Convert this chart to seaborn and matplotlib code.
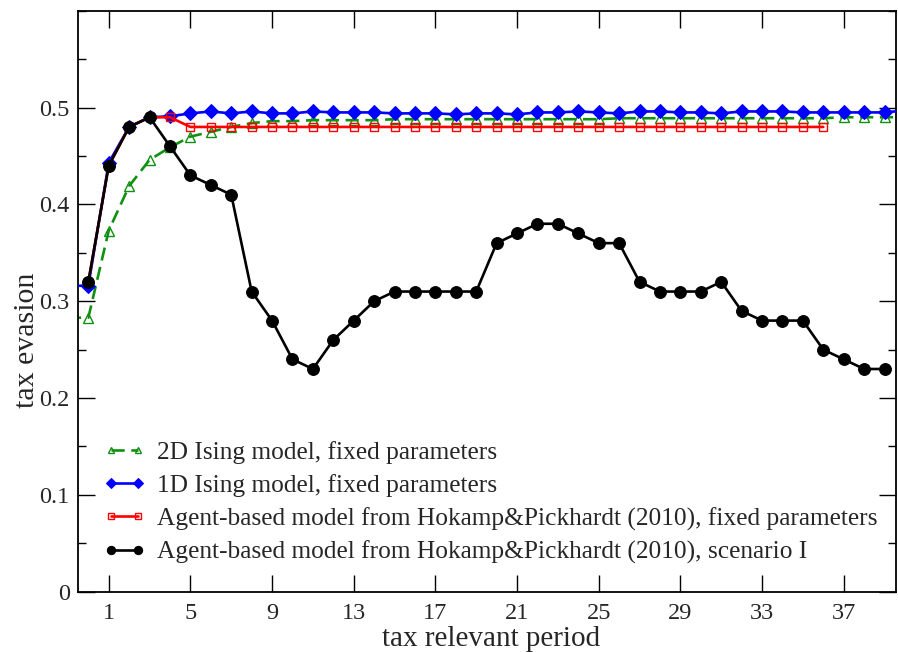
"""Tax evasion over tax relevant periods: Ising models vs agent-based model."""
import numpy as np
import pandas as pd
import matplotlib
matplotlib.use("Agg")
import matplotlib.pyplot as plt
import seaborn as sns
from matplotlib.ticker import MultipleLocator

# periods (the Ising runs also show one step left of the first period)
PERIODS_ISING = list(range(-1, 41))
PERIODS_ABM_FIXED = list(range(0, 37))
PERIODS_ABM_SCEN = list(range(0, 40))

ISING_2D = [0.283, 0.283, 0.373, 0.419, 0.446, 0.459, 0.470, 0.475, 0.480, 0.484,
            0.486, 0.486, 0.487, 0.487, 0.487, 0.487, 0.488, 0.488, 0.488, 0.488,
            0.488, 0.488, 0.488, 0.488, 0.488, 0.488, 0.488, 0.489, 0.489, 0.489,
            0.489, 0.489, 0.489, 0.489, 0.489, 0.489, 0.489, 0.489, 0.490, 0.490,
            0.490, 0.490]
ISING_1D = [0.316, 0.316, 0.443, 0.480, 0.490, 0.491, 0.494, 0.496, 0.494, 0.496,
            0.494, 0.494, 0.496, 0.495, 0.495, 0.495, 0.494, 0.494, 0.494, 0.493,
            0.494, 0.494, 0.493, 0.495, 0.495, 0.496, 0.495, 0.494, 0.496, 0.496,
            0.495, 0.495, 0.494, 0.496, 0.496, 0.496, 0.495, 0.495, 0.495, 0.495,
            0.495, 0.497]
ABM_FIXED = [0.32, 0.44, 0.48, 0.49, 0.49] + [0.48] * 32
ABM_SCEN = [0.32, 0.44, 0.48, 0.49, 0.46, 0.43, 0.42, 0.41, 0.31, 0.28,
            0.24, 0.23, 0.26, 0.28, 0.30, 0.31, 0.31, 0.31, 0.31, 0.31,
            0.36, 0.37, 0.38, 0.38, 0.37, 0.36, 0.36, 0.32, 0.31, 0.31,
            0.31, 0.32, 0.29, 0.28, 0.28, 0.28, 0.25, 0.24, 0.23, 0.23]

LABELS = [
    "2D Ising model, fixed parameters",
    "1D Ising model, fixed parameters",
    "Agent-based model from Hokamp&Pickhardt (2010), fixed parameters",
    "Agent-based model from Hokamp&Pickhardt (2010), scenario I",
]
XTICKS = [1, 5, 9, 13, 17, 21, 25, 29, 33, 37]


def main():
    sns.set_style("ticks")
    plt.rcParams["font.family"] = ["Liberation Serif", "DejaVu Serif"]

    fig = plt.figure(figsize=(8.98, 6.52), dpi=100)
    ax = fig.add_axes([0.087, 0.0925, 0.9105, 0.891])

    lw = 1.9
    sns.lineplot(x=PERIODS_ISING, y=ISING_2D, ax=ax, color="#109010",
                 linewidth=lw, linestyle=(0, (5, 2.5)), marker="^",
                 markersize=6.5, markerfacecolor="none",
                 markeredgecolor="#109010", markeredgewidth=1.0,
                 label=LABELS[0], zorder=2)
    sns.lineplot(x=PERIODS_ISING, y=ISING_1D, ax=ax, color="#0000ff",
                 linewidth=lw, marker="D", markersize=7,
                 markeredgecolor="#0000ff", label=LABELS[1], zorder=3)
    sns.lineplot(x=PERIODS_ABM_FIXED, y=ABM_FIXED, ax=ax, color="#ff0000",
                 linewidth=lw, marker="s", markersize=6,
                 markerfacecolor="none", markeredgecolor="#ff0000",
                 markeredgewidth=1.0, label=LABELS[2], zorder=4)
    sns.lineplot(x=PERIODS_ABM_SCEN, y=ABM_SCEN, ax=ax, color="black",
                 linewidth=lw, marker="o", markersize=8.5,
                 markeredgecolor="black", label=LABELS[3], zorder=5)

    ax.set_xlim(-0.5, 39.55)
    ax.set_ylim(0, 0.6)
    ax.set_xticks(XTICKS)
    ax.yaxis.set_minor_locator(MultipleLocator(0.05))
    ax.set_yticks([0, 0.1, 0.2, 0.3, 0.4, 0.5])
    ax.set_yticklabels(["0", "0.1", "0.2", "0.3", "0.4", "0.5"])
    ax.tick_params(which="both", direction="in", top=True, right=True,
                   labelsize=17.5, width=1.0, color="black")
    ax.tick_params(axis="x", pad=8)
    ax.tick_params(axis="y", pad=6)
    ax.tick_params(which="major", length=12)
    ax.tick_params(which="minor", length=6)
    for sp in ax.spines.values():
        sp.set_linewidth(1.3)
        sp.set_color("black")

    ax.set_xlabel("tax relevant period", fontsize=21, va="baseline")
    ax.set_ylabel("tax evasion", fontsize=21.5)
    ax.xaxis.set_label_coords(0.505, -0.093)
    ax.yaxis.set_label_coords(-0.047, 0.433)

    ax.legend(loc="lower left", bbox_to_anchor=(0.012, 0.021), frameon=False,
              fontsize=18.3, numpoints=2, markerscale=0.7, handlelength=1.65,
              handletextpad=0.45, labelspacing=0.40, borderaxespad=0.2)

    fig.savefig("out.png", dpi=100)
    plt.close(fig)


if __name__ == "__main__":
    main()
